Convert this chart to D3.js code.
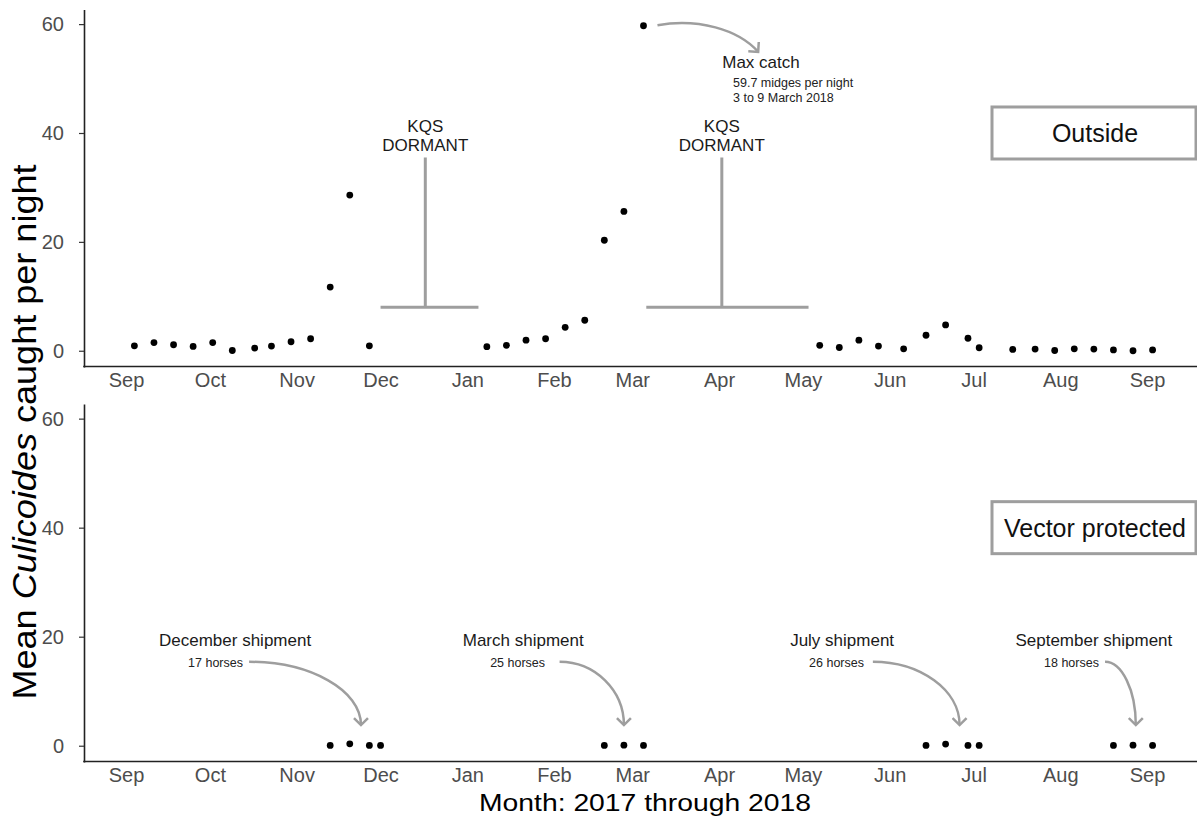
<!DOCTYPE html>
<html><head><meta charset="utf-8">
<script src="https://cdn.jsdelivr.net/npm/d3@7"></script>
<style>
body{margin:0;background:#fff;}
svg{display:block;font-family:"Liberation Sans",Arial,Helvetica,sans-serif;}
</style>
</head><body>
<svg id="chart" width="1197" height="820"></svg>
<script>
// ---------------- data ----------------
const monthTickDates = ["2017-09-01","2017-10-01","2017-11-01","2017-12-01","2018-01-01","2018-02-01","2018-03-01","2018-04-01","2018-05-01","2018-06-01","2018-07-01","2018-08-01","2018-09-01"];
const monthLabels = ["Sep","Oct","Nov","Dec","Jan","Feb","Mar","Apr","May","Jun","Jul","Aug","Sep"];
const yTicks = [0, 20, 40, 60];

const outsideDates = ["2017-09-04","2017-09-11","2017-09-18","2017-09-25","2017-10-02","2017-10-09","2017-10-17","2017-10-23","2017-10-30","2017-11-06","2017-11-13","2017-11-20","2017-11-27",
  "2018-01-08","2018-01-15","2018-01-22","2018-01-29","2018-02-05","2018-02-12","2018-02-19","2018-02-26","2018-03-05",
  "2018-05-07","2018-05-14","2018-05-21","2018-05-28","2018-06-06","2018-06-14","2018-06-21","2018-06-29","2018-07-03","2018-07-15","2018-07-23","2018-07-30","2018-08-06","2018-08-13","2018-08-20","2018-08-27","2018-09-03"];
const outsideValues = [0.9,1.5,1.1,0.8,1.5,0.05,0.5,0.85,1.65,2.2,11.7,28.6,0.9,
  0.75,1.0,1.95,2.2,4.3,5.6,20.3,25.6,59.7,
  1.0,0.6,1.95,0.85,0.35,2.85,4.75,2.3,0.55,0.25,0.3,0.05,0.35,0.3,0.15,0.0,0.15];

const protectedDates = ["2017-11-13","2017-11-20","2017-11-27","2017-12-01","2018-02-19","2018-02-26","2018-03-05","2018-06-14","2018-06-21","2018-06-29","2018-07-03","2018-08-20","2018-08-27","2018-09-03"];
const protectedValues = [0.05,0.35,0.05,0.05,0.05,0.1,0.05,0.05,0.3,0.05,0.05,0.05,0.1,0.05];

const panelNames = ["Outside","Vector protected"];

// KQS dormant brackets (outside panel)
const kqsStart = ["2017-12-01","2018-03-06"];
const kqsEnd   = ["2018-01-05","2018-05-03"];
const kqsMid   = ["2017-12-17","2018-04-02"];
const kqsLow = 8, kqsHigh = 35.5;
const kqsLine1 = "KQS", kqsLine2 = "DORMANT";
const kqsLine1Value = 40.2, kqsLine2Value = 36.7;

// Max catch annotation
const maxTitle = "Max catch";
const maxLines = ["59.7 midges per night","3 to 9 March 2018"];
const maxTitleDate = "2018-04-16", maxTitleValue = 51.9;
const maxLinesDate = "2018-04-06", maxLinesValues = [48.4, 45.7];
const maxArrowFrom = ["2018-03-10", 59.8];
const maxArrowTo = ["2018-04-15", 54.9];

// Shipments (vector protected panel)
const shipmentNames  = ["December shipment","March shipment","July shipment","September shipment"];
const shipmentHorses = ["17 horses","25 horses","26 horses","18 horses"];
const shipmentTitleDates = ["2017-10-10","2018-01-21","2018-05-15","2018-08-13"];
const shipmentHorseDates = ["2017-10-03","2018-01-19","2018-05-13","2018-08-05"];
const shipmentArrowFrom = ["2017-10-15","2018-02-03","2018-05-26","2018-08-17"];
const shipmentArrowTo   = ["2017-11-24","2018-02-26","2018-06-26","2018-08-28"];
const shipmentTitleValue = 18.35, shipmentHorseValue = 14.44;
const shipmentArrowFromValue = 15.4, shipmentArrowToValue = 3.8;

// ---------------- layout ----------------
const W = 1197, H = 820;
const axisLeft = 84, axisRight = 1197;
const panelTop = [9.5, 404], panelBottom = [367, 762];
const grey = "#9e9e9e";
const tickGrey = "#4d4d4d";

const parse = d3.utcParse("%Y-%m-%d");
const svg = d3.select("#chart");
svg.append("rect").attr("width", W).attr("height", H).attr("fill", "#fff");

const x = d3.scaleUtc()
  .domain([parse("2017-09-01"), parse("2018-09-01")])
  .range([126, 1147]);

const ys = panelTop.map((t, i) => d3.scaleLinear().domain([-2.985, 62.685]).range([panelBottom[i], t]));

// arrow marker
const defs = svg.append("defs");
defs.append("marker").attr("id", "arrowhead")
  .attr("markerUnits", "userSpaceOnUse")
  .attr("viewBox", "0 0 16 16")
  .attr("markerWidth", 16).attr("markerHeight", 16)
  .attr("refX", 8).attr("refY", 8).attr("orient", "auto")
  .append("path").attr("d", "M1,1 L8,8 L1,15")
  .attr("fill", "none").attr("stroke", grey).attr("stroke-width", 2.5).attr("stroke-linejoin", "miter");

const series = [
  {dates: outsideDates, values: outsideValues},
  {dates: protectedDates, values: protectedValues}
];

panelNames.forEach((name, i) => {
  const y = ys[i];
  const g = svg.append("g");

  // y axis
  const ya = g.append("g").attr("transform", `translate(${axisLeft},0)`)
    .call(d3.axisLeft(y).tickValues(yTicks).tickSize(5).tickSizeOuter(0).tickPadding(15));
  ya.select(".domain").attr("stroke", "#222").attr("stroke-width", 1.6);
  ya.selectAll(".tick line").attr("stroke", "#333").attr("stroke-width", 1.2);
  ya.selectAll(".tick text").attr("font-size", 20).attr("fill", tickGrey)
    .attr("font-family", '"Liberation Sans",Arial,sans-serif');

  // x axis
  const xa = g.append("g").attr("transform", `translate(0,${panelBottom[i] - 0.5})`)
    .call(d3.axisBottom(x).tickValues(monthTickDates.map(parse))
      .tickFormat((d, k) => monthLabels[k]).tickSize(0).tickPadding(6));
  xa.select(".domain").remove();
  xa.selectAll(".tick text").attr("font-size", 20).attr("fill", tickGrey)
    .attr("font-family", '"Liberation Sans",Arial,sans-serif');
  g.append("line").attr("x1", axisLeft - 0.8).attr("x2", axisRight)
    .attr("y1", panelBottom[i] - 0.5).attr("y2", panelBottom[i] - 0.5)
    .attr("stroke", "#222").attr("stroke-width", 1.6);

  // points
  const s = series[i];
  g.append("g").selectAll("circle").data(s.dates.map((d, k) => [parse(d), s.values[k]]))
    .join("circle")
    .attr("cx", d => x(d[0])).attr("cy", d => y(d[1])).attr("r", 3.4).attr("fill", "#000");

  // panel label box (centered on y = 40)
  const by = y(40);
  g.append("rect").attr("x", 992).attr("y", by - 26).attr("width", 204).attr("height", 52)
    .attr("fill", "#fff").attr("stroke", grey).attr("stroke-width", 3);
  g.append("text").attr("x", 1095).attr("y", by + 9).attr("text-anchor", "middle")
    .attr("font-size", 25).attr("fill", "#111").text(name);
});

// ---------------- outside panel annotations ----------------
const yO = ys[0];
const kg = svg.append("g");
kqsStart.forEach((d, k) => {
  kg.append("line").attr("x1", x(parse(d))).attr("x2", x(parse(kqsEnd[k])))
    .attr("y1", yO(kqsLow)).attr("y2", yO(kqsLow)).attr("stroke", grey).attr("stroke-width", 3);
  kg.append("line").attr("x1", x(parse(kqsMid[k]))).attr("x2", x(parse(kqsMid[k])))
    .attr("y1", yO(kqsLow)).attr("y2", yO(kqsHigh)).attr("stroke", grey).attr("stroke-width", 3);
  kg.append("text").attr("x", x(parse(kqsMid[k]))).attr("y", yO(kqsLine1Value))
    .attr("text-anchor", "middle").attr("font-size", 17).attr("fill", "#1a1a1a").text(kqsLine1);
  kg.append("text").attr("x", x(parse(kqsMid[k]))).attr("y", yO(kqsLine2Value))
    .attr("text-anchor", "middle").attr("font-size", 17).attr("fill", "#1a1a1a").text(kqsLine2);
});

// max catch
{
  const sx = x(parse(maxArrowFrom[0])), sy = yO(maxArrowFrom[1]);
  const ex = x(parse(maxArrowTo[0])), ey = yO(maxArrowTo[1]);
  const dx = ex - sx, dy = ey - sy;
  const p = d3.path();
  p.moveTo(sx, sy);
  p.bezierCurveTo(sx + 0.4 * dx, sy - 7, ex - 0.2 * dx, ey - 0.85 * dy, ex, ey);
  kg.append("path").attr("d", p.toString()).attr("fill", "none").attr("stroke", grey)
    .attr("stroke-width", 2.5).attr("marker-end", "url(#arrowhead)");
  kg.append("text").attr("x", x(parse(maxTitleDate))).attr("y", yO(maxTitleValue))
    .attr("text-anchor", "middle").attr("font-size", 17).attr("fill", "#1a1a1a").text(maxTitle);
  maxLines.forEach((t, k) => {
    kg.append("text").attr("x", x(parse(maxLinesDate))).attr("y", yO(maxLinesValues[k]))
      .attr("text-anchor", "start").attr("font-size", 12.5).attr("fill", "#222").text(t);
  });
}

// ---------------- vector protected annotations ----------------
const yP = ys[1];
const sg = svg.append("g");
shipmentNames.forEach((nm, k) => {
  sg.append("text").attr("x", x(parse(shipmentTitleDates[k]))).attr("y", yP(shipmentTitleValue))
    .attr("text-anchor", "middle").attr("font-size", 17).attr("fill", "#1a1a1a").text(nm);
  sg.append("text").attr("x", x(parse(shipmentHorseDates[k]))).attr("y", yP(shipmentHorseValue))
    .attr("text-anchor", "middle").attr("font-size", 12.5).attr("fill", "#222").text(shipmentHorses[k]);
  const sx = x(parse(shipmentArrowFrom[k])), sy = yP(shipmentArrowFromValue);
  const ex = x(parse(shipmentArrowTo[k])), ey = yP(shipmentArrowToValue);
  const dx = ex - sx, dy = ey - sy;
  const p = d3.path();
  p.moveTo(sx, sy);
  p.bezierCurveTo(sx + 0.55 * dx, sy, ex, ey - 0.55 * dy, ex, ey);
  sg.append("path").attr("d", p.toString()).attr("fill", "none").attr("stroke", grey)
    .attr("stroke-width", 2.5).attr("marker-end", "url(#arrowhead)");
});

// ---------------- axis titles ----------------
svg.append("text").attr("x", 645).attr("y", 811).attr("text-anchor", "middle")
  .attr("font-size", 23).attr("fill", "#000")
  .attr("textLength", 332).attr("lengthAdjust", "spacingAndGlyphs")
  .text("Month: 2017 through 2018");

const yt = svg.append("text").attr("transform", "translate(36,432) rotate(-90)")
  .attr("text-anchor", "middle").attr("font-size", 33).attr("fill", "#000")
  .attr("textLength", 535).attr("lengthAdjust", "spacingAndGlyphs");
yt.append("tspan").text("Mean ");
yt.append("tspan").attr("font-style", "italic").text("Culicoides");
yt.append("tspan").text(" caught per night");
</script>
</body></html>
